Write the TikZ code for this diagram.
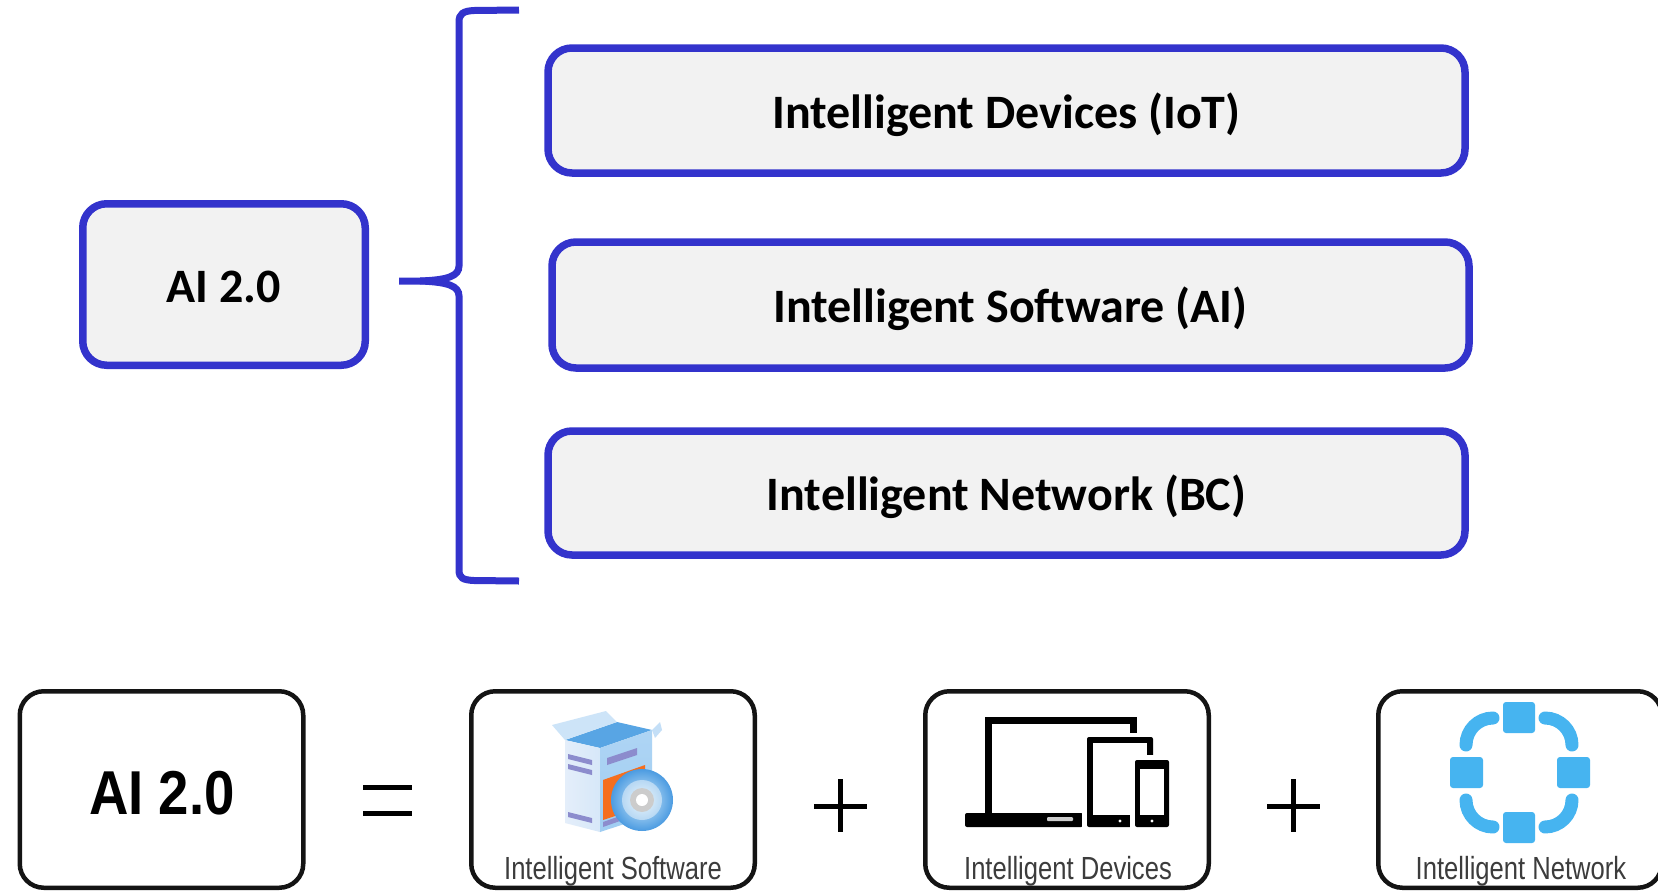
\documentclass[tikz,border=0pt]{standalone}
\usepackage{fontspec}
\setmainfont{Carlito}
\newfontfamily\captionfont[FakeStretch=0.8]{Liberation Sans}
\newfontfamily\titlefont[FakeStretch=0.88]{Liberation Sans}
\usetikzlibrary{calc}

\definecolor{mapblue}{RGB}{51,51,204}
\definecolor{boxgray}{RGB}{242,242,242}
\definecolor{netblue}{RGB}{70,180,240}
\definecolor{capgray}{RGB}{60,60,60}
\definecolor{boxline}{RGB}{20,20,20}
\definecolor{pkfront}{RGB}{228,238,250}
\definecolor{pkside}{RGB}{160,205,242}
\definecolor{pkinside}{RGB}{88,165,228}
\definecolor{pkflap}{RGB}{205,228,248}
\definecolor{pkstripe}{RGB}{140,140,205}
\definecolor{pkorange}{RGB}{245,110,30}
\definecolor{discblue}{RGB}{75,155,225}
\definecolor{disclight}{RGB}{215,238,252}

\begin{document}
\begin{tikzpicture}[x=1pt,y=-1pt,
  bluebox/.style={draw=mapblue, line width=7.5pt, fill=boxgray,
    rounded corners=24pt, inner sep=0pt, text height=41pt, text depth=6pt,
    font=\fontsize{48}{50}\selectfont\bfseries},
  blackbox/.style={draw=boxline, line width=4.5pt, fill=white,
    rounded corners=24pt, inner sep=0pt, minimum width=283.5pt, minimum height=196.5pt},
  brace/.style={draw=mapblue, line width=7pt},
  caption/.style={font=\captionfont\fontsize{32}{34}\selectfont, text=capgray, inner sep=0pt},
  opline/.style={draw=black, line width=5.5pt},
  netarc/.style={draw=netblue, line width=13pt, line cap=round},
  netnode/.style={fill=netblue, rounded corners=3pt}
]
\useasboundingbox (0,0) rectangle (1658,892);

% ---------- upper part: AI 2.0 and its three parts ----------
\node[bluebox, minimum width=282.5pt, minimum height=161.5pt] (ai) at (224,284.5) {AI 2.0};
\node[bluebox, minimum width=917pt, minimum height=125pt] (iot) at (1006.5,110.5) {Intelligent Devices (IoT)};
\node[bluebox, minimum width=917pt, minimum height=126pt] (sw) at (1010.5,305) {Intelligent Software (AI)};
\node[bluebox, minimum width=917pt, minimum height=124pt] (bc) at (1006.5,493) {Intelligent Network (BC)};

% curly brace
\coordinate (tip) at (399,281);
\draw[brace] (519,10) -- (474,10.5) .. controls (463,11) and (459,14) .. (459,22)
  -- (459,266) .. controls (459,276) and (448,280) .. (420,281) -- (tip);
\draw[brace] (420,281) .. controls (448,282) and (459,286) .. (459,296)
  -- (459,570) .. controls (459,578) and (463,580) .. (474,580.5) -- (519,581);

% ---------- lower part: the equation ----------
\node[blackbox] (eqai) at (161.5,789.5) {};
\node[font=\titlefont\bfseries\fontsize{62}{64}\selectfont, inner sep=0pt] (eqaitext) at (162,793) {AI 2.0};

\node[blackbox] (eqsw) at (613,789.5) {};
\node[blackbox] (eqdev) at (1067,789.5) {};
\node[blackbox] (eqnet) at (1520,789.5) {};

\node[caption] (capsw) at (613,871) {Intelligent Software};
\node[caption] (capdev) at (1068,871) {Intelligent Devices};
\node[caption] (capnet) at (1521,871) {Intelligent Network};

% equals sign
\draw[opline] (363,787.5) -- (412,787.5);
\draw[opline] (363,813.5) -- (412,813.5);
% plus signs
\draw[opline, line width=5pt] (814,806) -- (867,806);
\draw[opline, line width=5pt] (840.5,779) -- (840.5,832);
\draw[opline, line width=5pt] (1267,806) -- (1320,806);
\draw[opline, line width=5pt] (1293.5,779) -- (1293.5,832);

% ---------- software box icon ----------
\begin{scope}[line join=round]
  % inside of the open package
  \fill[pkinside] (565,740) -- (600,748) -- (652,730) -- (617,722) -- cycle;
  % lid flaps
  \fill[pkflap] (565,740) -- (552,725) -- (606,711) -- (617,722) -- cycle;
  \fill[pkflap!80!pkside] (652,730) -- (660,722) -- (662,730) -- (655,738) -- cycle;
  % left face
  \shade[left color=pkfront, right color=pkfront!80!pkside]
    (565,740) -- (600,748) -- (600,832) -- (565,823) -- cycle;
  % right face
  \shade[top color=pkside!85!white, bottom color=pkside]
    (600,748) -- (652,730) -- (652,815) -- (600,832) -- cycle;
  % stripes on the left face
  \fill[pkstripe] (568,754) -- (592,760) -- (592,765) -- (568,759) -- cycle;
  \fill[pkstripe] (568,764) -- (592,770) -- (592,775) -- (568,769) -- cycle;
  \fill[pkstripe] (568,812) -- (592,818) -- (592,823) -- (568,817) -- cycle;
  % label and panel on the right face
  \fill[pkstripe] (607,758) -- (637,748) -- (637,755) -- (607,765) -- cycle;
  \fill[pkorange] (603,780) -- (645,765) -- (645,806) -- (603,820) -- cycle;
  \fill[pkstripe] (603,822) -- (620,816) -- (620,821) -- (603,827) -- cycle;
  % disc
  \shade[inner color=disclight, outer color=discblue] (642,800) circle[radius=31];
  \fill[white, opacity=0.45] (642,800) circle[radius=20];
  \fill[gray!40] (642,800) circle[radius=12];
  \fill[white] (642,800) circle[radius=6];
\end{scope}

% ---------- devices icon ----------
\begin{scope}
  % laptop
  \fill[black] (985,717) rectangle (1137,815);
  \fill[white] (992,724) rectangle (1130,815);
  \fill[black, rounded corners=2pt] (965,813) rectangle (1083,827);
  \fill[gray!40, rounded corners=1pt] (1047,817) rectangle (1073,821);
  % tablet
  \fill[white] (1082,733) rectangle (1158,832);
  \fill[black, rounded corners=2pt] (1087,737) rectangle (1153,827);
  \fill[white] (1093,743) rectangle (1147,815);
  \fill[white] (1120,821) circle[radius=1.6];
  % phone
  \fill[white] (1130,755) rectangle (1174,832);
  \fill[black, rounded corners=2pt] (1135,760) rectangle (1169,827);
  \fill[white] (1140,769) rectangle (1164,815);
  \fill[white] (1152,821) circle[radius=1.6];
\end{scope}

% ---------- network icon ----------
\begin{scope}
  \fill[netnode] (1503,702) rectangle (1535,733);
  \fill[netnode] (1450,757) rectangle (1483,788);
  \fill[netnode] (1557,757) rectangle (1590,788);
  \fill[netnode] (1503,812) rectangle (1535,843);
  \draw[netarc] (1493,718) arc[start angle=270, end angle=180, radius=27];
  \draw[netarc] (1545,718) arc[start angle=270, end angle=360, radius=27];
  \draw[netarc] (1466,800) arc[start angle=180, end angle=90, radius=27];
  \draw[netarc] (1572,800) arc[start angle=0, end angle=90, radius=27];
\end{scope}

\end{tikzpicture}
\end{document}
